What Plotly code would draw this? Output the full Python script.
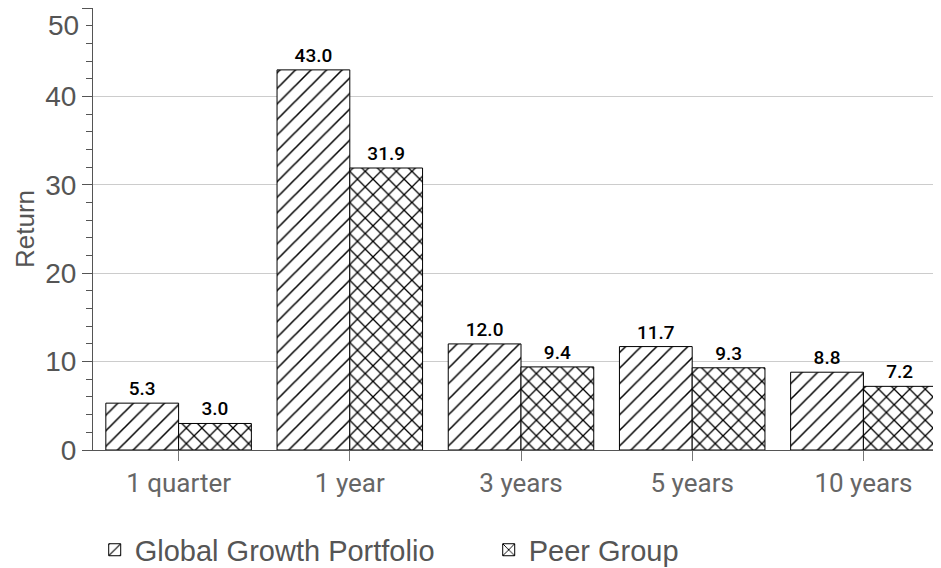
import plotly.graph_objects as go

categories = ["1 quarter", "1 year", "3 years", "5 years", "10 years"]
portfolio = [5.3, 43.0, 12.0, 11.7, 8.8]
peer = [3.0, 31.9, 9.4, 9.3, 7.2]
series_names = ["Global Growth Portfolio", "Peer Group"]
y_tickvals = [0, 10, 20, 30, 40, 50]
y_ticktext = ["0", "10", "20", "30", "40", ""]

label_font = dict(family="Roboto", size=19, color="#000000", weight=500)

fig = go.Figure()
fig.add_trace(go.Bar(
    x=categories, y=portfolio, name=series_names[0],
    text=[f"{v:.1f}" for v in portfolio], textposition="outside",
    textfont=label_font, cliponaxis=False,
    marker=dict(color="white", line=dict(color="black", width=1),
                pattern=dict(shape="/", fgcolor="black", bgcolor="white",
                             size=11, solidity=0.14, fillmode="replace")),
))
fig.add_trace(go.Bar(
    x=categories, y=peer, name=series_names[1],
    text=[f"{v:.1f}" for v in peer], textposition="outside",
    textfont=label_font, cliponaxis=False,
    marker=dict(color="white", line=dict(color="black", width=1),
                pattern=dict(shape="x", fgcolor="black", bgcolor="white",
                             size=11, solidity=0.22, fillmode="replace")),
))

fig.update_layout(
    width=941, height=560,
    margin=dict(l=85, r=0, t=0, b=118, autoexpand=False),
    paper_bgcolor="white", plot_bgcolor="white",
    barmode="group", bargap=0.15, bargroupgap=0,
    font=dict(family="Liberation Sans", color="#555555"),
    showlegend=True,
    legend=dict(orientation="h", x=0.002, xanchor="left", y=-0.226, yanchor="middle",
                font=dict(family="Liberation Sans", size=29, color="#555555"),
                entrywidth=349, entrywidthmode="pixels", traceorder="normal"),
    xaxis=dict(range=[-0.5, 4.5], showline=True, linecolor="#555555", linewidth=1,
               ticks="outside", ticklen=10, tickcolor="#777777",
               tickfont=dict(family="Roboto", size=26, color="#666666"),
               showgrid=False, zeroline=False),
    yaxis=dict(range=[0, 50], tickvals=y_tickvals, ticktext=y_ticktext,
               showline=True, linecolor="#555555", linewidth=1,
               ticks="outside", ticklen=10, tickcolor="#555555",
               minor=dict(dtick=2, ticks="outside", ticklen=6, tickcolor="#555555", showgrid=False),
               tickfont=dict(family="Liberation Sans", size=28, color="#555555"),
               showgrid=True, gridcolor="#cccccc", gridwidth=1, zeroline=False,
               title=dict(text="Return", font=dict(family="Liberation Sans", size=26, color="#555555"),
                          standoff=3)),
    annotations=[dict(text="50", x=0, xref="paper", y=48, yref="y", xanchor="right",
                      yanchor="middle", xshift=-12, showarrow=False,
                      font=dict(family="Liberation Sans", size=28, color="#555555"))],
)

fig.write_html("out.html")
